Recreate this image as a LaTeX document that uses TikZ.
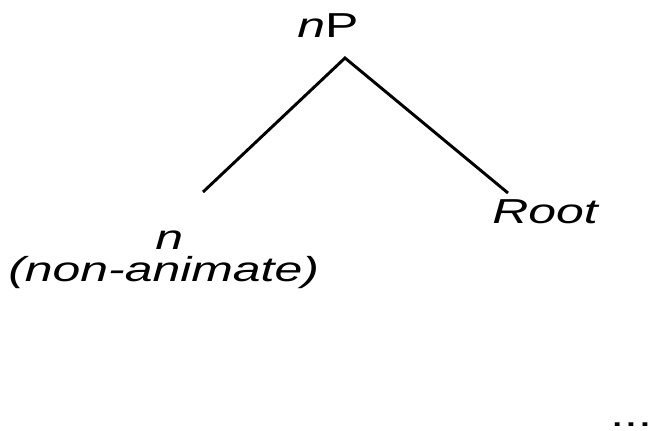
\documentclass[tikz,border=0pt]{standalone}
\usepackage{fontspec}
\newfontfamily\treefont{Liberation Sans}[FakeStretch=1.44]
\tikzset{treelabel/.style={inner sep=0pt, font=\treefont\fontsize{26}{31}\selectfont}}
\tikzset{branch/.style={line width=2.2pt}}

\begin{document}
\begin{tikzpicture}[x=0.75pt,y=0.75pt,yscale=-1,xscale=1]
\path [use as bounding box] (0,0) rectangle (654,430);

%Straight Lines
\coordinate (apex) at (345,58);
\coordinate (leftend) at (203,192);
\coordinate (rightend) at (508,193);
\draw [branch] (leftend) -- (apex) -- (rightend);

% Text Node
\draw (297,37) node (np) [treelabel, anchor=base west] {\textit{n}P};
% Text Node
\draw (155,249) node (n) [treelabel, anchor=base west] {\textit{n}};
% Text Node
\draw (8,281) node (nonanim) [treelabel, anchor=base west] {\textit{(non-animate)}};
% Text Node
\draw (492,223) node (root) [treelabel, anchor=base west] {\textit{Root}};
% Text Node
\draw (610,426) node (dots) [treelabel, anchor=base west] {...};

\end{tikzpicture}
\end{document}
